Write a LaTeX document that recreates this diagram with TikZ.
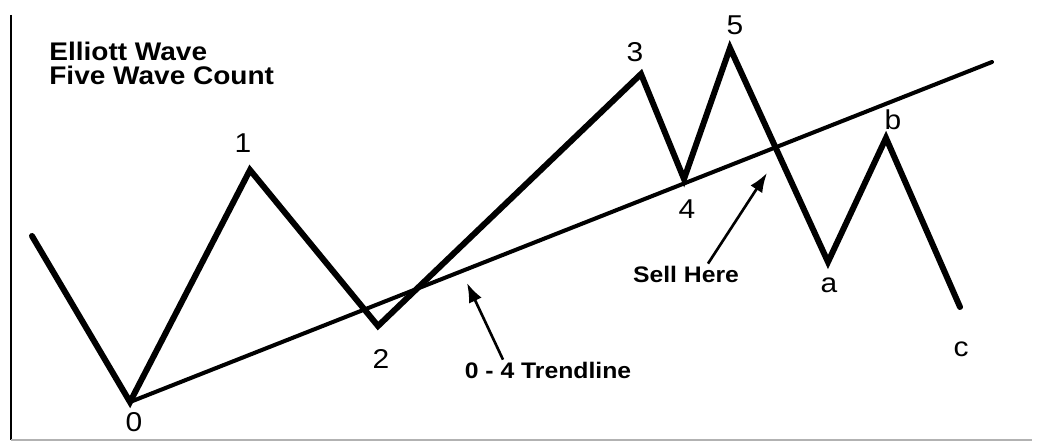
\documentclass[tikz,border=0pt]{standalone}
\usepackage{fontspec}
\setmainfont{Liberation Sans}[FakeStretch=1.1]
\usetikzlibrary{arrows.meta}
\tikzset{
  wave/.style={line width=3.4pt, line cap=round},
  trend/.style={line width=2.3pt, line cap=round},
  count/.style={font=\fontsize{15.5}{18}\selectfont, inner sep=1pt},
  heading/.style={font=\bfseries\fontsize{14.5}{13.2}\selectfont, align=left, inner sep=0pt},
  note/.style={font=\bfseries\fontsize{12.8}{15}\selectfont, inner sep=1pt},
  pointer/.style={line width=1.5pt, -{Latex[length=11pt,width=8pt]}}
}
\begin{document}
\begin{tikzpicture}[x=0.02cm,y=-0.02cm]
  \useasboundingbox (0,0) rectangle (1039,442);
  \draw[line width=1.4pt] (11,15) -- (11,440);
  \draw[gray!60, line width=1pt] (11,440) -- (1032,440);
  \foreach \n/\x/\y in {s/32/236,0/130/402,1/250/170,2/378/326,3/641/74,4/684/179,5/730/48,a/828/262,b/886/138,c/960/307}
    \coordinate (w\n) at (\x,\y);
  \coordinate (tend) at (992,62);
  \draw[trend] (w0) -- (tend);
  \draw[wave] (ws) -- (w0) -- (w1) -- (w2) -- (w3) -- (w4) -- (w5) -- (wa) -- (wb) -- (wc);
  \foreach \n/\x/\y in {0/134/422,1/243/143,2/381/359,3/635/52,4/687/209,5/735/25,a/829/285,b/893/120,c/961/349}
    \node[count] (l\n) at (\x,\y) {\n};
  \node[heading, anchor=north west] (title) at (49,42) {Elliott Wave\\Five Wave Count};
  \node[note] (ltrend) at (548,370) {0 - 4 Trendline};
  \node[note] (lsell) at (686,274) {Sell Here};
  \coordinate (trendtip) at (467,283);
  \coordinate (selltip) at (767,173);
  \draw[pointer] ([xshift=-0.9cm]ltrend.north) -- (trendtip);
  \draw[pointer] ([xshift=0.44cm]lsell.north) -- (selltip);
\end{tikzpicture}
\end{document}
